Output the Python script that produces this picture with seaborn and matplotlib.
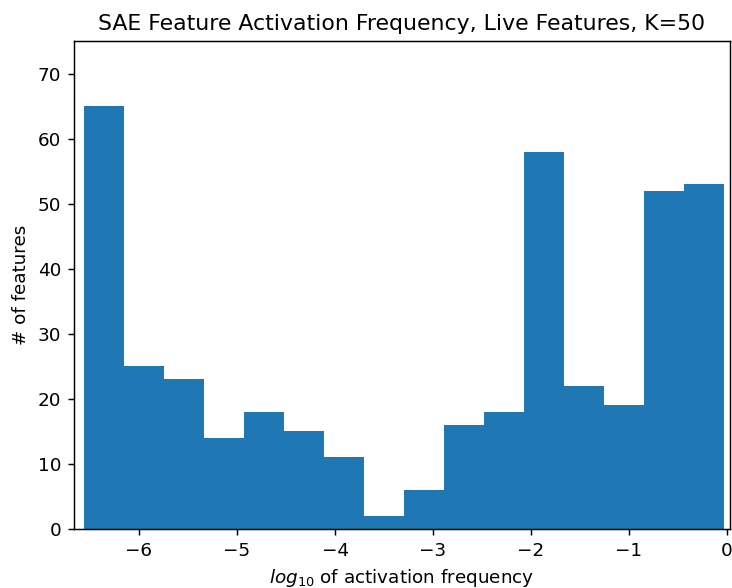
import numpy as np
import pandas as pd
import seaborn as sns
import matplotlib.pyplot as plt

# histogram counts per bin
counts = [65, 25, 23, 14, 18, 15, 11, 2, 6, 16, 18, 58, 22, 19, 52, 53]
bin_lo = -6.56
bin_hi = -0.03

edges = np.linspace(bin_lo, bin_hi, len(counts) + 1)
centers = (edges[:-1] + edges[1:]) / 2
df = pd.DataFrame({"log_freq": centers, "n": counts})

fig = plt.figure(figsize=(732 / 132, 588 / 132), dpi=132)
ax = fig.add_axes([74 / 732, (588 - 529) / 588, (730 - 74) / 732, (529 - 41) / 588])

sns.histplot(
    data=df, x="log_freq", weights="n", bins=edges.tolist(),
    color="#1f77b4", alpha=1.0, edgecolor="none", linewidth=0, ax=ax
)

ax.set_xlim(-6.663, 0.03)
ax.set_ylim(0, 75)
ax.set_xticks([-6, -5, -4, -3, -2, -1, 0])
ax.set_title("SAE Feature Activation Frequency, Live Features, K=50")
ax.set_xlabel("$log_{10}$ of activation frequency")
ax.set_ylabel("# of features")

plt.savefig("out.png", dpi=132)
